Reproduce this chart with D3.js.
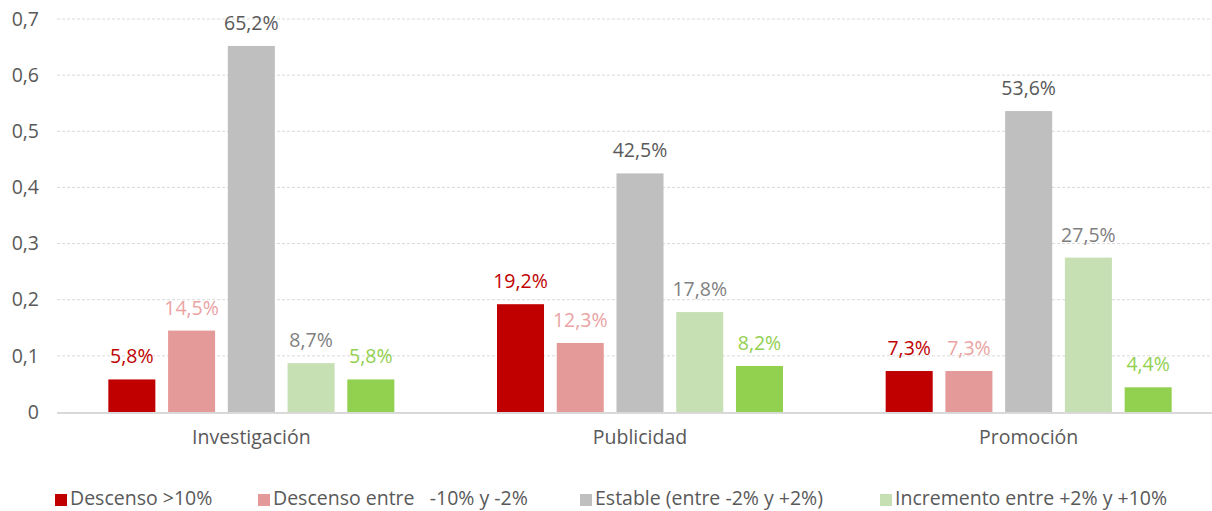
<!DOCTYPE html>
<html>
<head>
<meta charset="utf-8">
<script src="https://cdn.jsdelivr.net/npm/d3@7"></script>
<style>
  body { margin: 0; background: #fff; }
  svg text { font-family: "Open Sans", "Noto Sans", sans-serif; }
</style>
</head>
<body>
<div id="chart"></div>
<script>
// data
const categories = ["Investigación", "Publicidad", "Promoción"];
const seriesNames = ["Descenso >10%", "Descenso entre   -10% y -2%", "Estable (entre -2% y +2%)", "Incremento entre +2% y +10%", "Incremento >10%"];
const descenso10 = [0.058, 0.192, 0.073];
const descensoEntre = [0.145, 0.123, 0.073];
const estable = [0.652, 0.425, 0.536];
const incrementoEntre = [0.087, 0.178, 0.275];
const incremento10 = [0.058, 0.082, 0.044];
const yTicks = [0, 0.1, 0.2, 0.3, 0.4, 0.5, 0.6, 0.7];

const barColors = ["#C00000", "#E59A9A", "#BFBFBF", "#C6E0B4", "#92D050"];
const labelColors = ["#C00000", "#EBA3A3", "#595959", "#7F7F7F", "#92D050"];

const allSeries = [descenso10, descensoEntre, estable, incrementoEntre, incremento10];

let width = 1212, height = 511;
let fontSize = "19.5px";
let svg = d3.select("#chart").append("svg")
  .attr("width", width).attr("height", height);

let groupWidth = 286;

let xScale = d3.scaleBand()
  .domain(categories)
  .range([57, 1223])
  .paddingInner(0).paddingOuter(0);

let xInner = d3.scaleBand()
  .domain(d3.range(seriesNames.length))
  .range([0, groupWidth])
  .paddingInner(0.213).paddingOuter(0);

let yScale = d3.scaleLinear()
  .domain([0, 0.7])
  .range([412, 19]);

// gridlines
svg.append("g")
  .selectAll("line")
  .data(yTicks.filter(d => d > 0))
  .join("line")
  .attr("x1", 57).attr("x2", width)
  .attr("y1", d => yScale(d)).attr("y2", d => yScale(d))
  .attr("stroke", "#d9d9d9")
  .attr("stroke-dasharray", "3,2")
  .attr("stroke-width", 1);

// y axis labels
let yAxis = svg.append("g")
  .attr("transform", "translate(57,0)")
  .call(d3.axisLeft(yScale).tickValues(yTicks).tickSize(0).tickPadding(18)
    .tickFormat(d => d === 0 ? "0" : d3.format(".1f")(d).replace(".", ",")));
yAxis.select(".domain").remove();
yAxis.selectAll("text")
  .attr("fill", "#595959")
  .style("font-size", fontSize);

// bars
let groups = svg.append("g")
  .selectAll("g")
  .data(categories)
  .join("g")
  .attr("transform", d => `translate(${xScale(d) + (xScale.bandwidth() - groupWidth) / 2},0)`);

groups.selectAll("rect")
  .data((c, ci) => allSeries.map((s, si) => ({ si: si, v: s[ci] })))
  .join("rect")
  .attr("x", d => xInner(d.si))
  .attr("y", d => yScale(d.v))
  .attr("width", xInner.bandwidth())
  .attr("height", d => yScale(0) - yScale(d.v))
  .attr("fill", d => barColors[d.si]);

groups.selectAll("text")
  .data((c, ci) => allSeries.map((s, si) => ({ si: si, v: s[ci] })))
  .join("text")
  .attr("x", d => xInner(d.si) + xInner.bandwidth() / 2)
  .attr("y", d => yScale(d.v) - 16)
  .attr("text-anchor", "middle")
  .attr("fill", d => labelColors[d.si])
  .style("font-size", fontSize)
  .text(d => d3.format(".1f")(d.v * 100).replace(".", ",") + "%");

// baseline
svg.append("line")
  .attr("x1", 57).attr("x2", width)
  .attr("y1", yScale(0) + 1).attr("y2", yScale(0) + 1)
  .attr("stroke", "#d9d9d9")
  .attr("stroke-width", 2);

// x axis labels
let xAxis = svg.append("g")
  .attr("transform", `translate(0,${yScale(0)})`)
  .call(d3.axisBottom(xScale).tickSize(0).tickPadding(18));
xAxis.select(".domain").remove();
xAxis.selectAll("text")
  .attr("fill", "#595959")
  .style("font-size", fontSize);

// legend: only the first four entries fit in the picture
const legendX = [55, 258, 580, 880];
let legend = svg.append("g")
  .selectAll("g")
  .data(seriesNames.slice(0, 4))
  .join("g")
  .attr("transform", (d, i) => `translate(${legendX[i]},500)`);

legend.append("rect")
  .attr("x", 0).attr("y", -6)
  .attr("width", 12).attr("height", 12)
  .attr("fill", (d, i) => barColors[i]);

legend.append("text")
  .attr("x", 15).attr("y", 5)
  .attr("fill", "#595959")
  .style("font-size", fontSize)
  .style("white-space", "pre")
  .text(d => d);
</script>
</body>
</html>
